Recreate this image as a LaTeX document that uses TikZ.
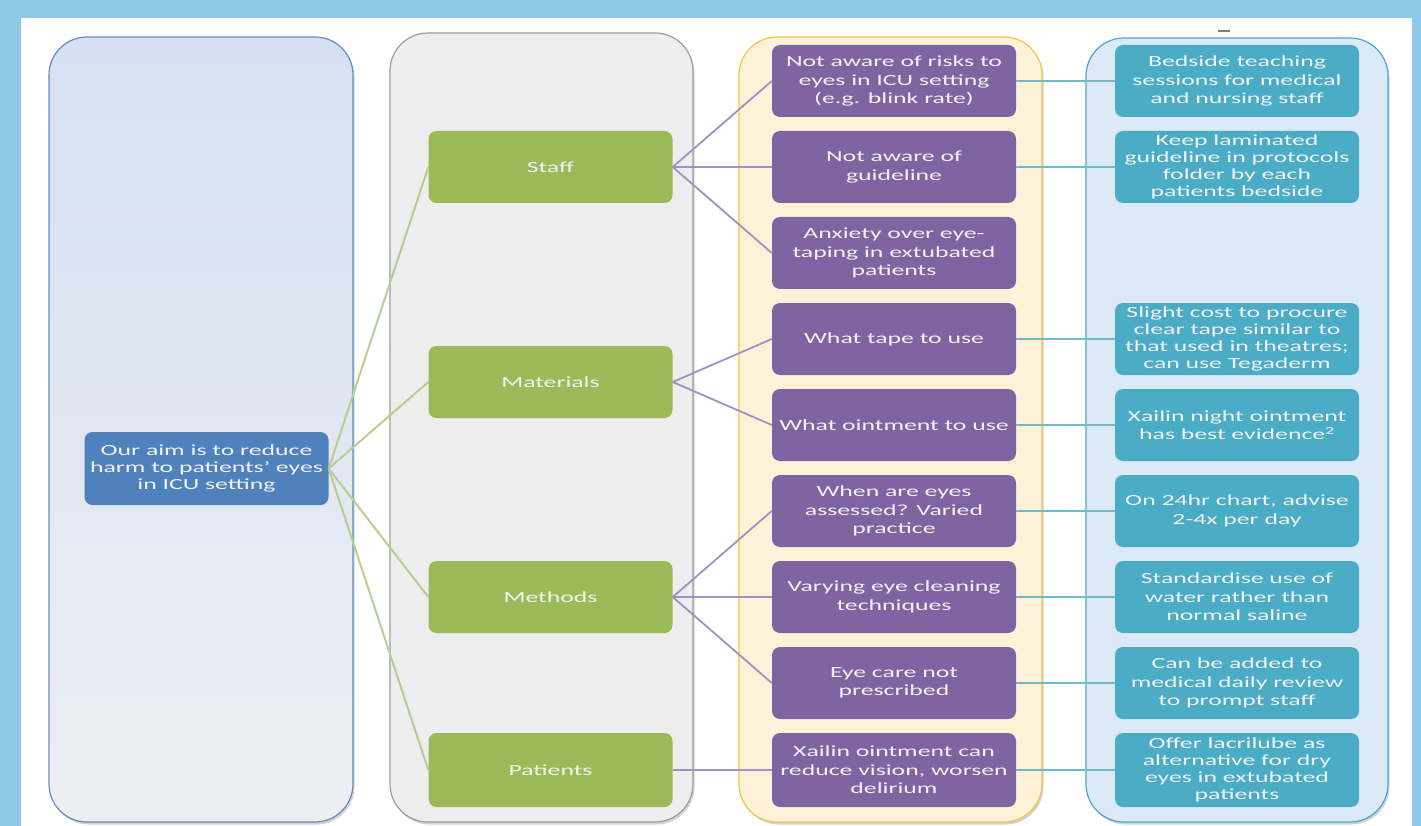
\documentclass[tikz,border=0pt]{standalone}
\usepackage{fontspec}
\setmainfont{Carlito}[FakeStretch=1.66]
\usetikzlibrary{shadows}
\definecolor{bgblue}{HTML}{8ECAE8}
\definecolor{cAtop}{HTML}{D5E0F2}
\definecolor{cAbot}{HTML}{EDEFF4}
\definecolor{cAline}{HTML}{6A8BC0}
\definecolor{cBfill}{HTML}{EEEEEE}
\definecolor{cBline}{HTML}{9E9E9E}
\definecolor{cCfill}{HTML}{FDF1D8}
\definecolor{cCline}{HTML}{F0C64A}
\definecolor{cDfill}{HTML}{DCE9F6}
\definecolor{cDline}{HTML}{4AA8D0}
\definecolor{aimfill}{HTML}{4F81BD}
\definecolor{greenfill}{HTML}{9BBB59}
\definecolor{purplefill}{HTML}{8064A2}
\definecolor{tealfill}{HTML}{4BACC6}
\definecolor{gline}{HTML}{B8CF8F}
\definecolor{pline}{HTML}{9E92C4}
\definecolor{tline}{HTML}{70BBCB}
\definecolor{boxtext}{HTML}{F2F2F4}
\begin{document}
\begin{tikzpicture}[x=1pt,y=-1pt,
  colshadow/.style={drop shadow={shadow xshift=1.5pt,shadow yshift=-2.5pt,opacity=0.35,fill=gray}},
  column/.style={rounded corners=38pt,line width=1.2pt,colshadow},
  box/.style={rounded corners=8pt,minimum width=244pt,minimum height=72pt,inner sep=1pt,
    align=center,text=boxtext,font=\fontsize{15.5}{18.5}\selectfont},
  tightbox/.style={box,font=\fontsize{15.5}{17}\selectfont},
  aimbox/.style={box,fill=aimfill,minimum height=73pt,font=\fontsize{15.5}{17}\selectfont},
  gbox/.style={box,fill=greenfill},
  pbox/.style={box,fill=purplefill},
  tbox/.style={box,fill=tealfill},
  tboxtight/.style={tightbox,fill=tealfill},
  glink/.style={draw=gline,line width=2pt},
  plink/.style={draw=pline,line width=1.8pt},
  tlink/.style={draw=tline,line width=1.8pt}]
\useasboundingbox (0,0) rectangle (1421,826);
\fill[bgblue] (0,0) rectangle (1421,826);
\fill[white] (21,18) rectangle (1412,826);
% columns
\draw[column,draw=cAline,top color=cAtop,bottom color=cAbot] (49,37) rectangle (353,822);
\draw[column,draw=cBline,fill=cBfill] (390,33) rectangle (693,822);
\draw[column,draw=cCline,fill=cCfill] (739,37) rectangle (1042,822);
\draw[column,draw=cDline,fill=cDfill] (1086,38) rectangle (1388,822);
\draw[gray,line width=1.2pt] (1218,31) -- (1230,31);
% aim
\node[aimbox] (aim) at (206.5,468.5) {Our aim is to reduce\\harm to patients' eyes\\in ICU setting};
% green
\node[gbox] (staff) at (550.5,167) {Staff};
\node[gbox] (mat) at (550.5,382) {Materials};
\node[gbox] (meth) at (550.5,597) {Methods};
\node[gbox,minimum height=74pt] (pat) at (550.5,770) {Patients};
% purple
\node[pbox] (p1) at (894,81) {Not aware of risks to\\eyes in ICU setting\\(e.g. blink rate)};
\node[pbox] (p2) at (894,167) {Not aware of\\guideline};
\node[pbox] (p3) at (894,253) {Anxiety over eye-\\taping in extubated\\patients};
\node[pbox] (p4) at (894,339) {What tape to use};
\node[pbox] (p5) at (894,425) {What ointment to use};
\node[pbox] (p6) at (894,511) {When are eyes\\assessed? Varied\\practice};
\node[pbox] (p7) at (894,597) {Varying eye cleaning\\techniques};
\node[pbox] (p8) at (894,683) {Eye care not\\prescribed};
\node[pbox,minimum height=74pt] (p9) at (894,770) {Xailin ointment can\\reduce vision, worsen\\delirium};
% teal
\node[tbox] (t1) at (1237,81) {Bedside teaching\\sessions for medical\\and nursing staff};
\node[tboxtight] (t2) at (1237,167) {Keep laminated\\guideline in protocols\\folder by each\\patients bedside};
\node[tboxtight] (t4) at (1237,339) {Slight cost to procure\\clear tape similar to\\that used in theatres;\\can use Tegaderm};
\node[tbox] (t5) at (1237,425) {Xailin night ointment\\has best evidence\textsuperscript{2}};
\node[tbox] (t6) at (1237,511) {On 24hr chart, advise\\2-4x per day};
\node[tbox] (t7) at (1237,597) {Standardise use of\\water rather than\\normal saline};
\node[tbox] (t8) at (1237,683) {Can be added to\\medical daily review\\to prompt staff};
\node[tboxtight,minimum height=74pt] (t9) at (1237,770) {Offer lacrilube as\\alternative for dry\\eyes in extubated\\patients};
% connectors
\foreach \g in {staff,mat,meth,pat} \draw[glink] (aim.east) -- (\g.west);
\foreach \p in {p1,p2,p3} \draw[plink] (staff.east) -- (\p.west);
\foreach \p in {p4,p5} \draw[plink] (mat.east) -- (\p.west);
\foreach \p in {p6,p7,p8} \draw[plink] (meth.east) -- (\p.west);
\draw[plink] (pat.east) -- (p9.west);
\foreach \a/\b in {p1/t1,p2/t2,p4/t4,p5/t5,p6/t6,p7/t7,p8/t8,p9/t9} \draw[tlink] (\a.east) -- (\b.west);
\end{tikzpicture}
\end{document}
